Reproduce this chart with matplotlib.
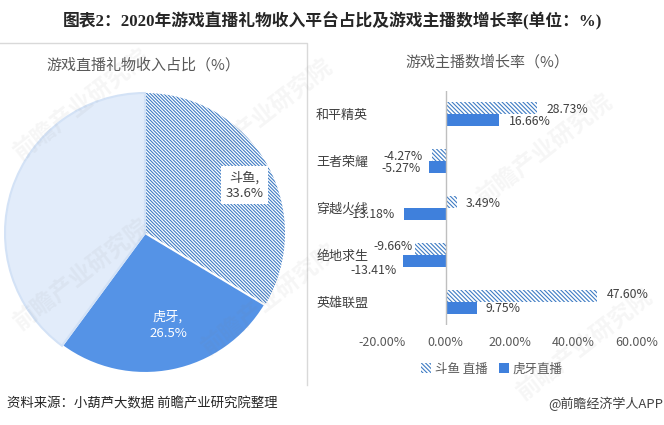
# -*- coding: utf-8 -*-
import matplotlib
matplotlib.use("Agg")
import matplotlib.pyplot as plt
from matplotlib.lines import Line2D
from matplotlib.patches import Patch

plt.rcParams['font.family'] = ['Noto Sans CJK SC', 'DejaVu Sans']
plt.rcParams['hatch.linewidth'] = 0.8

W, H = 664, 425

# pie data
pie_names = ["斗鱼", "虎牙", "其他"]
pie_values = [33.6, 26.5, 39.9]

# bar data
games = ["和平精英", "王者荣耀", "穿越火线", "绝地求生", "英雄联盟"]
douyu = [28.73, -4.27, 3.49, -9.66, 47.60]
huya = [16.66, -5.27, -13.18, -13.41, 9.75]
xticks = [-20, 0, 20, 40, 60]

# label offsets in pixels
douyu_off = [(9, 1), (-9, 1), (9, 1), (-2, -2), (9, -1)]
huya_off = [(10, 1), (-8, 1), (-9, 1), (-6, 10), (9, 1)]

TEXT = "#595959"
BLUE = "#3F80DC"
HATCH = "#3F7CC4"
BAR_HATCH = "\\" * 8
PIE_HATCH = "\\" * 10


def box(x0, y0, x1, y1):
    # pixel box, y from the top, to figure fractions
    return [x0 / W, 1 - y1 / H, (x1 - x0) / W, (y1 - y0) / H]


fig = plt.figure(figsize=(W / 100, H / 100), dpi=100)

# panel border
fig.add_artist(Line2D([0, 307 / W, 307 / W], [1 - 43 / H, 1 - 43 / H, 1 - 385 / H],
                      color="#D9D9D9", lw=1))

# pie
ax1 = fig.add_axes(box(5, 93, 285, 373))
wedges, _ = ax1.pie(pie_values, startangle=90, counterclock=False, radius=1,
                    colors=["white", "#5593E6", "#E2ECFA"],
                    wedgeprops={"linewidth": 1.5, "edgecolor": "white"})
wedges[0].set_hatch(PIE_HATCH)
wedges[0].set_edgecolor(HATCH)
wedges[0].set_linewidth(0)
wedges[1].set_edgecolor("white")
wedges[2].set_edgecolor("#D3E2F6")
ax1.set_xlim(-1, 1)
ax1.set_ylim(-1, 1)
ax1.text(0.71, 0.34, "%s,\n%.1f%%" % (pie_names[0], pie_values[0]), ha="center", va="center",
         fontsize=9.5, color="#404040", linespacing=1.3,
         bbox=dict(facecolor="white", edgecolor="none", pad=3))
ax1.text(0.164, -0.657, "%s,\n%.1f%%" % (pie_names[1], pie_values[1]), ha="center", va="center",
         fontsize=9.5, color="white", linespacing=1.3)

# bars
ax2 = fig.add_axes(box(382, 91, 637, 325))
ypos = list(range(len(games)))
h = 0.255
ax2.barh([y - h / 2 for y in ypos], douyu, height=h, facecolor="white", edgecolor=HATCH,
         hatch=BAR_HATCH, linewidth=0, label="斗鱼 直播")
ax2.barh([y + h / 2 for y in ypos], huya, height=h, color=BLUE, label="虎牙直播")
ax2.axvline(0, color="#BFBFBF", lw=1)
ax2.set_xlim(-20, 60)
ax2.set_ylim(4.5, -0.5)
ax2.patch.set_alpha(0)
for s in ax2.spines.values():
    s.set_visible(False)
ax2.set_yticks(ypos)
ax2.set_yticklabels(games, fontsize=9.4, color="#404040")
ax2.set_xticks(xticks)
ax2.set_xticklabels(["%.2f%%" % v for v in xticks], fontsize=9, color=TEXT)
ax2.tick_params(axis="y", length=0, pad=10)
ax2.tick_params(axis="x", length=0, pad=8)

for i in ypos:
    for val, off, yy in [(douyu[i], douyu_off[i], i - h / 2), (huya[i], huya_off[i], i + h / 2)]:
        ax2.annotate("%.2f%%" % val, (val, yy), xytext=(off[0] * 0.72, -off[1] * 0.72),
                     textcoords="offset points", fontsize=8.8, color="#404040", va="center",
                     ha="left" if off[0] > 0 else "right")

handles = [Patch(facecolor="white", edgecolor=HATCH, hatch=BAR_HATCH, linewidth=0),
           Patch(facecolor=BLUE)]
fig.legend(handles, ["斗鱼 直播", "虎牙直播"], ncol=2, frameon=False, fontsize=9,
           labelcolor=TEXT, loc="center", bbox_to_anchor=(492 / W, 1 - 369 / H),
           handlelength=0.8, handleheight=0.8, handletextpad=0.3, columnspacing=0.9)

# titles and footers
fig.text(332 / W, 1 - 21 / H, "图表2：2020年游戏直播礼物收入平台占比及游戏主播数增长率(单位：%)",
         ha="center", va="center", fontsize=12.1, fontweight="bold", color="#262626",
         family=["Liberation Serif", "Noto Sans CJK SC"])
fig.text(143 / W, 1 - 65 / H, "游戏直播礼物收入占比（%）", ha="center", va="center",
         fontsize=10.8, color=TEXT)
fig.text(487 / W, 1 - 62 / H, "游戏主播数增长率（%）", ha="center", va="center",
         fontsize=10.8, color=TEXT)
fig.text(7 / W, 1 - 404 / H, "资料来源：小葫芦大数据 前瞻产业研究院整理", ha="left", va="center",
         fontsize=9.65, color="#262626")
fig.text(663 / W, 1 - 404 / H, "@前瞻经济学人APP", ha="right", va="center",
         fontsize=9.4, color="#404040")

# watermarks
for wx, wy in [(82, 105), (265, 115), (545, 150), (82, 275), (270, 300), (585, 345)]:
    fig.text(wx / W, 1 - wy / H, "前瞻产业研究院", ha="center", va="center", rotation=38,
             fontsize=17, fontweight="bold", color="#808080", alpha=0.07)

fig.savefig("out.png", dpi=100)
